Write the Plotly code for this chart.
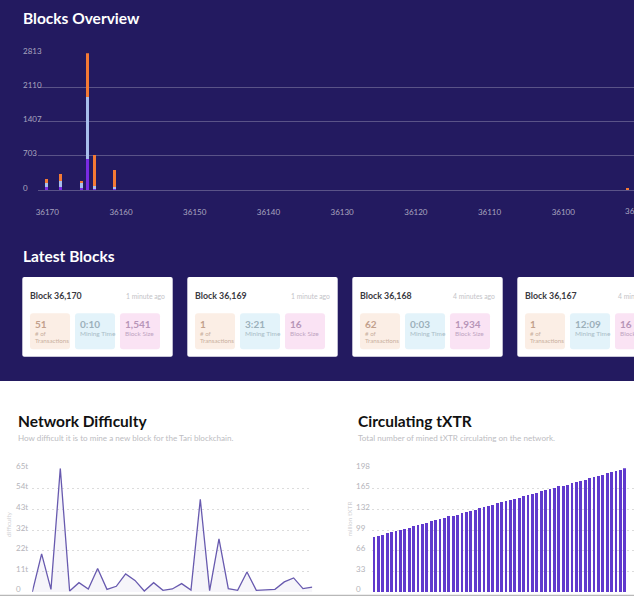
#!/usr/bin/env python

import plotly.graph_objects as go

W = 634
H = 596

# blocks overview
block_pos = [36170.1, 36168.2, 36165.4, 36164.5, 36163.6, 36160.9, 36091.3]
block_purple = [55, 62, 48, 640, 15, 15, 0]
block_blue = [96, 123, 96, 1284, 67, 52, 0]
block_orange = [76, 145, 48, 889, 632, 345, 32]
block_yticks = [0, 703, 1407, 2110, 2813]
block_xticks = [36170, 36160, 36150, 36140, 36130, 36120, 36110, 36100]

# latest blocks cards
card_names = ['Block 36,170', 'Block 36,169', 'Block 36,168', 'Block 36,167']
card_ages = ['1 minute ago', '1 minute ago', '4 minutes ago', '4 minutes ago']
card_tx = ['51', '1', '62', '1']
card_time = ['0:10', '3:21', '0:03', '12:09']
card_size = ['1,541', '16', '1,934', '16']

# network difficulty
difficulty = [0, 20, 1.4, 65, 0.5, 4.9, 1.6, 12.4, 1.4, 3, 9.5, 6.1, 0.5, 4.9, 0.9, 1.6,
              4.4, 1.05, 48.7, 0.7, 27.9, 1.75, 0.9, 10.5, 0.9, 1, 1.4, 5.3, 7.4, 1.75, 2.6]
diff_ticks = [0, 10.83, 21.67, 32.5, 43.33, 54.17, 65]
diff_labels = ['0', '11t', '22t', '32t', '43t', '54t', '65t']

# circulating tXTR
circulating = [88, 90, 92, 94, 96, 98, 99, 101, 103, 105,
               107, 109, 111, 113, 115, 117, 119, 121, 122, 124,
               126, 128, 130, 132, 134, 136, 138, 140, 142, 144,
               146, 147, 149, 151, 153, 155, 157, 159, 161, 163,
               165, 167, 169, 170, 172, 174, 176, 178, 180, 182,
               184, 186, 188, 190, 192, 194, 196, 198]
circ_ticks = [0, 33, 66, 99, 132, 165, 198]

NAVY = 'rgb(35,26,96)'
FONT = 'Lato'


def px(x):
    return x / W


def py(y):
    return 1 - y / H


def rounded(x0, y0, x1, y1, r, color):
    p = 'M %f,%f L %f,%f Q %f,%f %f,%f L %f,%f Q %f,%f %f,%f L %f,%f Q %f,%f %f,%f L %f,%f Q %f,%f %f,%f Z' % (
        px(x0 + r), py(y0), px(x1 - r), py(y0), px(x1), py(y0), px(x1), py(y0 + r),
        px(x1), py(y1 - r), px(x1), py(y1), px(x1 - r), py(y1),
        px(x0 + r), py(y1), px(x0), py(y1), px(x0), py(y1 - r),
        px(x0), py(y0 + r), px(x0), py(y0), px(x0 + r), py(y0))
    return dict(type='path', path=p, xref='paper', yref='paper', fillcolor=color,
                line=dict(width=0), layer='below')


def label(x, y, text, size, color, anchor='left', weight=None, angle=0):
    return dict(x=px(x), y=py(y), xref='paper', yref='paper', text=text, showarrow=False,
                xanchor=anchor, yanchor='middle', textangle=angle,
                font=dict(family=FONT, size=size, color=color, weight=weight),
                borderpad=0, borderwidth=0)


shapes = [dict(type='rect', xref='paper', yref='paper', x0=0, x1=1, y0=py(381), y1=1,
               fillcolor=NAVY, line=dict(width=0), layer='below')]
annotations = []

annotations.append(label(23, 18, 'Blocks Overview', 15.5, 'white', weight=700))
annotations.append(label(23, 256.5, 'Latest Blocks', 15.5, 'white', weight=700))
annotations.append(label(18, 421, 'Network Difficulty', 15.5, '#111111', weight=700))
annotations.append(label(358, 421, 'Circulating tXTR', 15.5, '#111111', weight=700))
annotations.append(label(18, 437.5, 'How difficult it is to mine a new block for the Tari blockchain.', 8.1, '#bdbdc2'))
annotations.append(label(358, 437.5, 'Total number of mined tXTR circulating on the network.', 8.1, '#bdbdc2'))

for v in block_yticks:
    annotations.append(label(23, 190 - v / 2813 * 136.7 - 2.4, str(v), 8, 'rgba(255,255,255,0.6)'))
# the next tick sits just past the window edge
annotations.append(label(636.5, 210.7, '36090', 8, 'rgba(255,255,255,0.6)', anchor='center'))

for v, t in zip(diff_ticks, diff_labels):
    annotations.append(label(16, 592 - v / 65 * 123.7 - 2.6, t, 8, '#b4b4ba'))
for v in circ_ticks:
    annotations.append(label(356, 592 - v / 198 * 123.7 - 2.6, str(v), 8, '#b4b4ba'))
annotations.append(label(8, 524, 'difficulty', 6.5, '#d0d0d4', anchor='center', angle=-90))
annotations.append(label(348.5, 519, 'million tXTR', 6.5, '#d0d0d4', anchor='center', angle=-90))

for i in range(len(card_names)):
    cx = 22.3 + i * 165
    shapes.append(rounded(cx, 277, cx + 150.4, 356.7, 2, 'white'))
    shapes.append(rounded(cx + 7.7, 313.3, cx + 47.7, 349.3, 3, '#fbeee5'))
    shapes.append(rounded(cx + 52.7, 313.3, cx + 92.7, 349.3, 3, '#e3f3fa'))
    shapes.append(rounded(cx + 97.7, 313.3, cx + 137.7, 349.3, 3, '#fae3f4'))
    annotations.append(label(cx + 7.7, 295.7, card_names[i], 8.8, '#3a3a42', weight=700))
    annotations.append(label(cx + 142.7, 295.7, card_ages[i], 6.8, '#c4c4c8', anchor='right'))
    annotations.append(label(cx + 12.7, 324, card_tx[i], 10, '#c2a08c', weight=700))
    annotations.append(label(cx + 12.7, 333, '# of', 6.2, '#c9b0a0'))
    annotations.append(label(cx + 12.7, 340.5, 'Transactions', 6.2, '#c9b0a0'))
    annotations.append(label(cx + 57.7, 324, card_time[i], 10, '#9cb0ba', weight=700))
    annotations.append(label(cx + 57.7, 333.5, 'Mining Time', 6.5, '#a9bcc6'))
    annotations.append(label(cx + 102.7, 324, card_size[i], 10, '#b795b8', weight=700))
    annotations.append(label(cx + 102.7, 333.5, 'Block Size', 6.5, '#bfa3c2'))

fig = go.Figure()
fig.add_trace(go.Bar(x=block_pos, y=block_purple, width=0.41, marker=dict(color='rgb(122,43,226)', line=dict(width=0)), xaxis='x', yaxis='y'))
fig.add_trace(go.Bar(x=block_pos, y=block_blue, width=0.41, marker=dict(color='rgb(168,190,236)', line=dict(width=0)), xaxis='x', yaxis='y'))
fig.add_trace(go.Bar(x=block_pos, y=block_orange, width=0.41, marker=dict(color='rgb(244,122,53)', line=dict(width=0)), xaxis='x', yaxis='y'))
fig.add_trace(go.Scatter(x=list(range(len(difficulty))), y=difficulty, mode='lines', fill='tozeroy',
                         fillcolor='rgba(104,90,175,0.06)', line=dict(color='rgb(104,90,175)', width=1.3),
                         xaxis='x2', yaxis='y2', cliponaxis=False))
fig.add_trace(go.Bar(x=list(range(len(circulating))), y=circulating, width=0.61,
                     marker=dict(color='rgb(96,58,205)', line=dict(width=0)), xaxis='x3', yaxis='y3'))

dotted = dict(showgrid=True, gridcolor='#dcdcdc', griddash='2px,3px', gridwidth=1, zeroline=False,
              showticklabels=False, ticks='', showline=False, automargin=False)
fig.update_layout(
    width=W,
    height=H,
    margin=dict(l=0, r=0, t=0, b=0),
    paper_bgcolor='white',
    plot_bgcolor='rgba(0,0,0,0)',
    barmode='stack',
    showlegend=False,
    shapes=shapes,
    annotations=annotations,
    xaxis=dict(domain=[px(38), 1], range=[36171.26, 36090.4], tickvals=block_xticks, tickformat='d',
               showgrid=False, zeroline=False, showline=False, ticks='', ticklen=0,
               tickfont=dict(family=FONT, size=8, color='rgba(255,255,255,0.6)'),
               anchor='y', ticklabelstandoff=16, automargin=False),
    yaxis=dict(domain=[py(190), py(53.3)], range=[0, 2813], tickvals=block_yticks,
               showgrid=True, gridcolor='rgba(255,255,255,0.25)', gridwidth=1.2,
               zeroline=True, zerolinecolor='rgba(255,255,255,0.25)', zerolinewidth=1.2,
               showticklabels=False, anchor='x', automargin=False),
    xaxis2=dict(domain=[px(32.3), px(312.3)], range=[0, 30], showgrid=False, zeroline=False,
                showticklabels=False, ticks='', anchor='y2', automargin=False),
    yaxis2=dict(domain=[py(592), py(468.3)], range=[0, 65], tickvals=diff_ticks, anchor='x2', **dotted),
    xaxis3=dict(domain=[px(372), 1], range=[-0.45, 59.1], showgrid=False, zeroline=False,
                showticklabels=False, ticks='', anchor='y3', automargin=False),
    yaxis3=dict(domain=[py(592), py(468.3)], range=[0, 198], tickvals=circ_ticks, anchor='x3', **dotted),
)
# grey strip along the bottom edge of the page
fig.add_shape(type='rect', xref='paper', yref='paper', x0=0, x1=1, y0=0, y1=py(594.8),
              fillcolor='#b8b8b8', line=dict(width=0))

fig.write_html("out.html", config=dict(displayModeBar=False),
               post_script="var d=document.getElementById('{plot_id}');d.style.position='fixed';d.style.left='0';d.style.top='0';document.body.style.margin='0';document.body.style.overflow='hidden';")
